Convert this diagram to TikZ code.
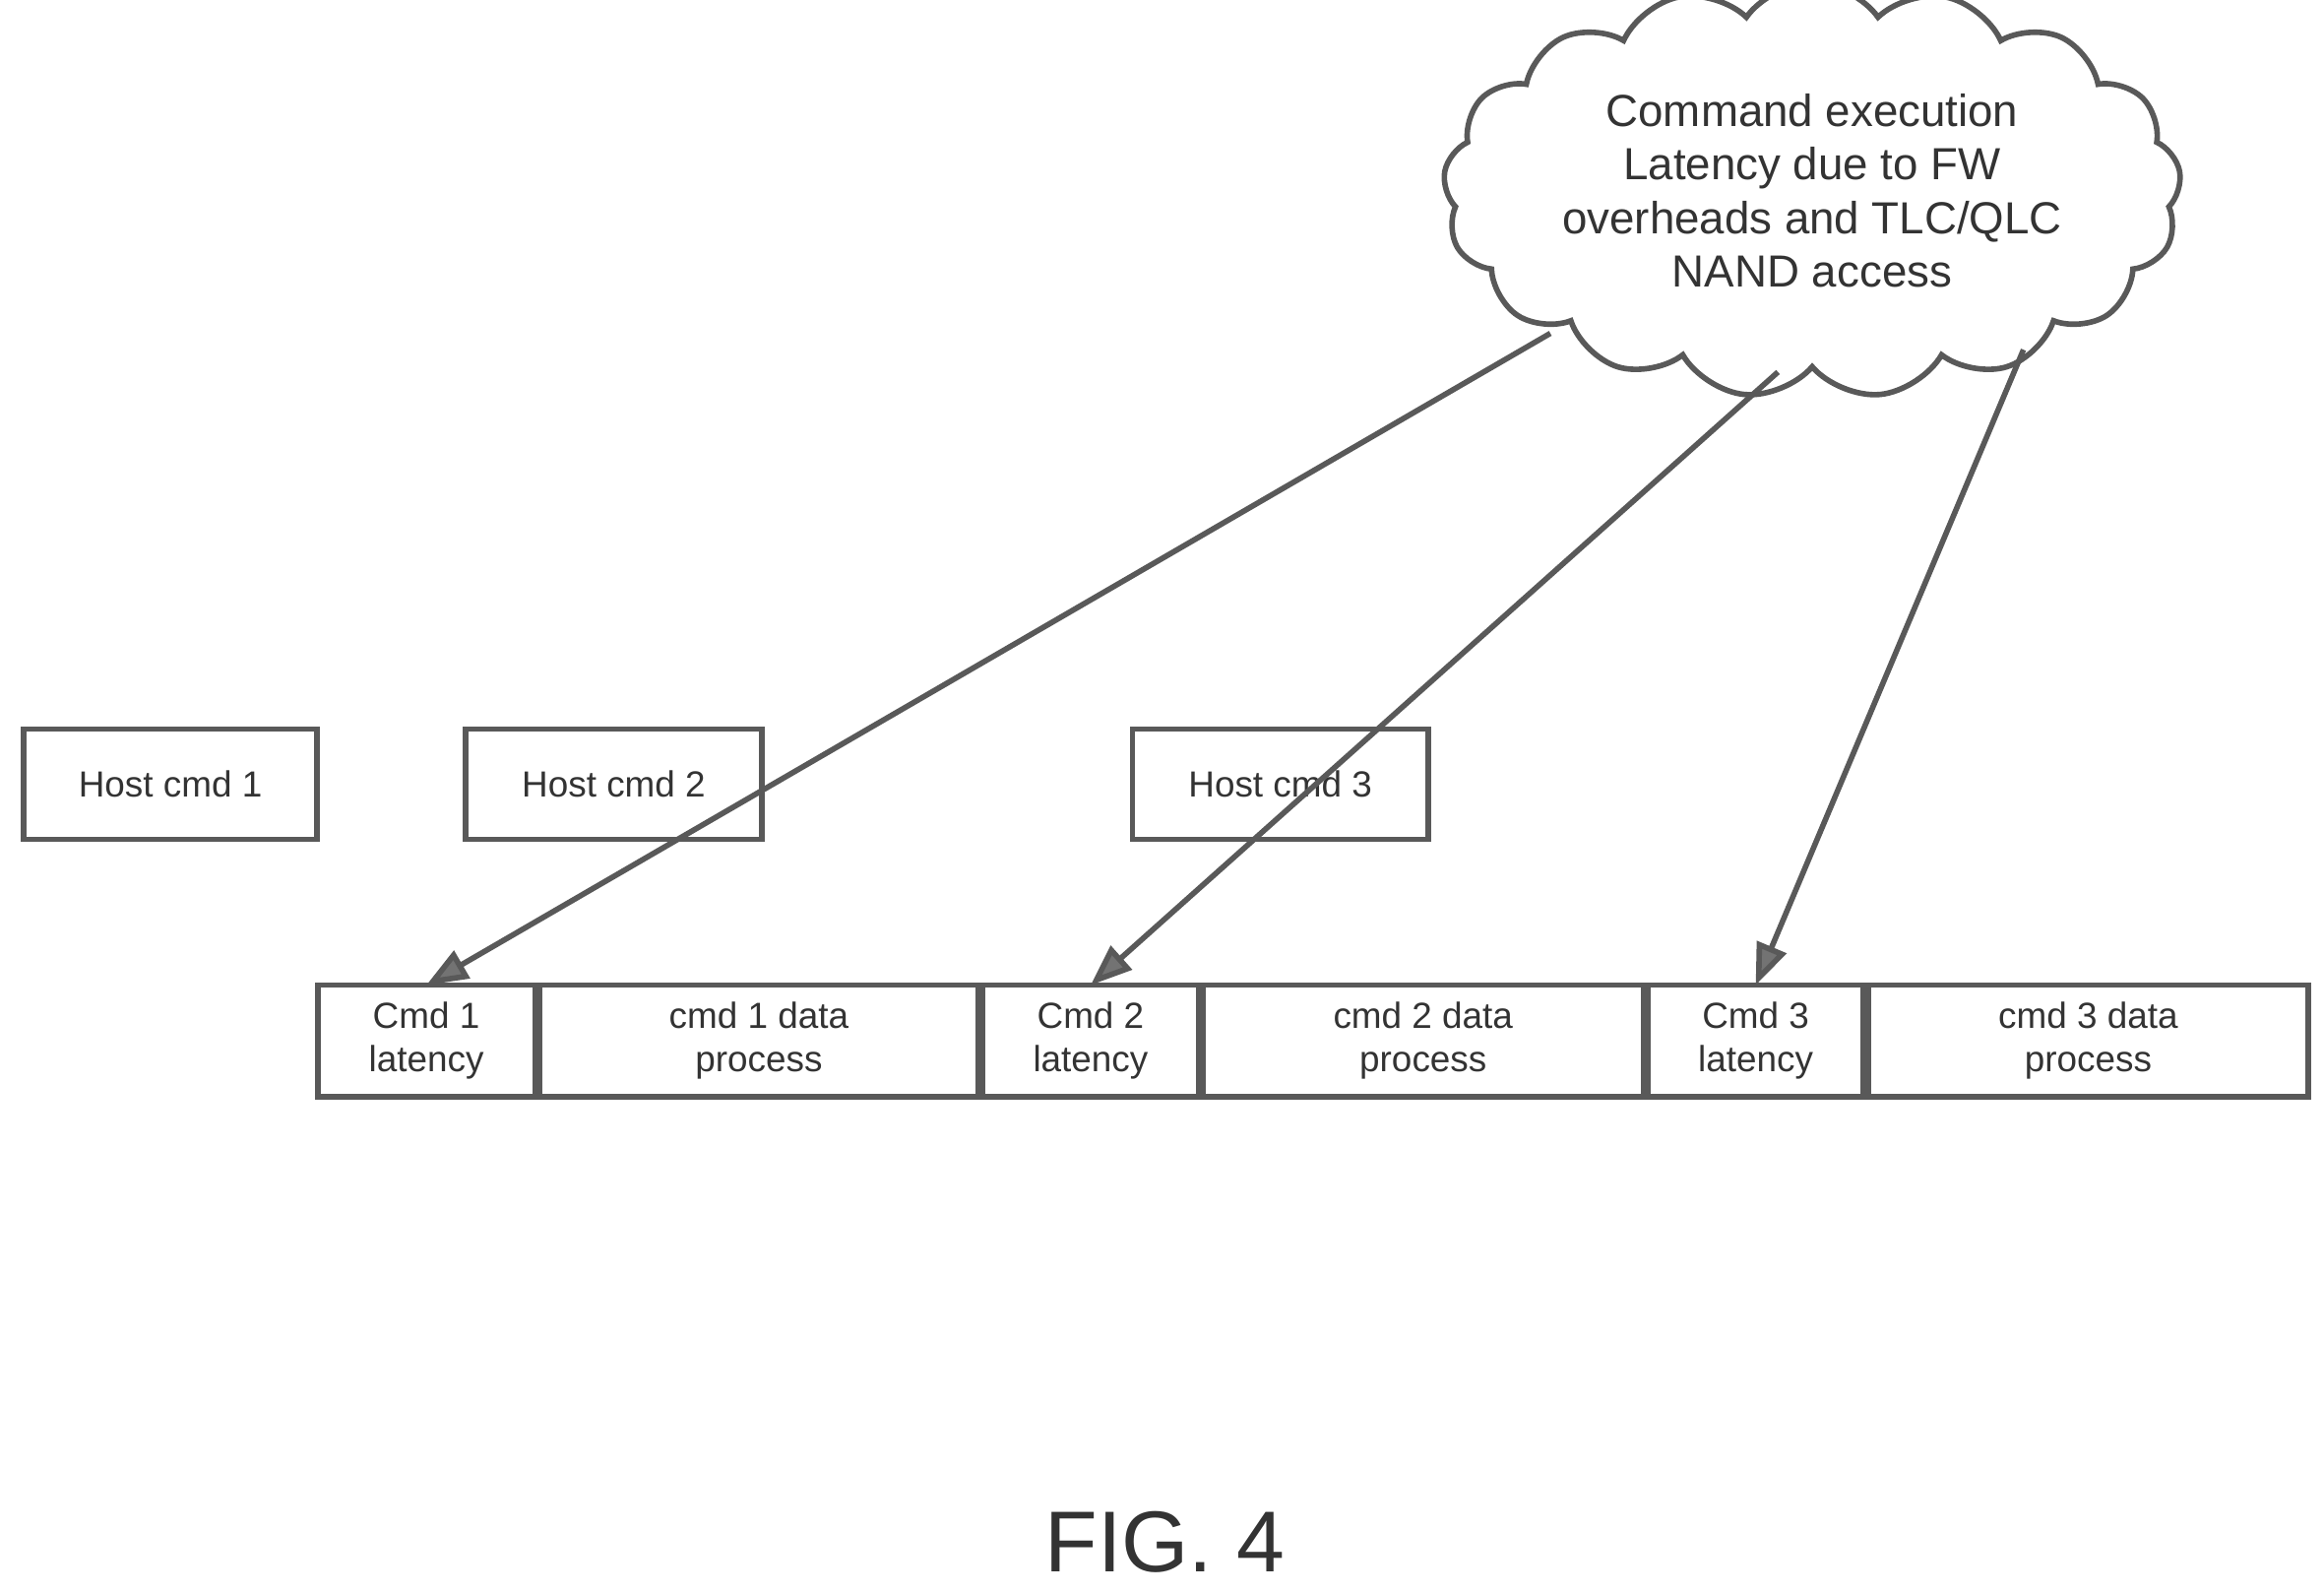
\documentclass[tikz,border=0pt]{standalone}
\usepackage{fontspec}
\setmainfont{Liberation Sans}
\usetikzlibrary{shapes.symbols,arrows.meta}
\begin{document}
\begin{tikzpicture}[x=0.015115cm,y=-0.015115cm,
  bx/.style={draw=black!65,line width=1.6pt,inner sep=0pt,outer sep=0pt,font=\fontsize{10.5}{12.5}\selectfont,align=center,text=black!80},
  ar/.style={draw=black!65,line width=1.6pt,-{Triangle[length=12pt,width=9pt,fill=black!55]}}]
\useasboundingbox (0,0) rectangle (1562,1070);
\node[bx,minimum width=197*0.15115mm,minimum height=74*0.15115mm] (h1) at (114.5,527) {Host cmd 1};
\node[bx,minimum width=199*0.15115mm,minimum height=74*0.15115mm] (h2) at (412.5,527) {Host cmd 2};
\node[bx,minimum width=199*0.15115mm,minimum height=74*0.15115mm] (h3) at (860.5,527) {Host cmd 3};
\foreach \n/\a/\b/\t in {l1/212/361/{Cmd 1\\latency},d1/361/659/{cmd 1 data\\process},l2/659/807/{Cmd 2\\latency},d2/807/1106/{cmd 2 data\\process},l3/1106/1254/{Cmd 3\\latency},d3/1254/1553/{cmd 3 data\\process}}{
  \node[bx,minimum width={(\b-\a-3)*0.15115mm},minimum height=75*0.15115mm] (\n) at ({(\a+\b)/2},699.5) {\t};}
\node[cloud,cloud puffs=17,cloud puff arc=110,aspect=2,draw=black!65,line width=1.6pt,minimum width=7.5cm,minimum height=3.5cm,align=center,font=\fontsize{13}{15.5}\selectfont,text=black!80,inner sep=0pt] (c) at (1218,128) {Command execution\\Latency due to FW\\overheads and TLC/QLC\\NAND access};
\coordinate (s1) at (1042,224);
\coordinate (s2) at (1195,250);
\coordinate (s3) at (1360,235);
\draw[ar] (s1) -- (l1.north);
\draw[ar] (s2) -- (l2.north);
\draw[ar] (s3) -- (l3.north);
\node[font=\fontsize{25}{30}\selectfont,text=black!80] (fig) at (783,1036) {FIG. 4};
\end{tikzpicture}
\end{document}
